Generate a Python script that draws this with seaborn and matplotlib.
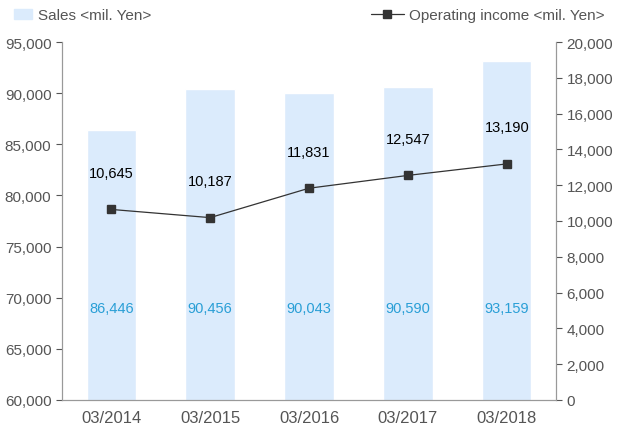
import numpy as np
import pandas as pd
import matplotlib.pyplot as plt
import seaborn as sns
from matplotlib.lines import Line2D
from matplotlib.patches import Patch

years = ['03/2014', '03/2015', '03/2016', '03/2017', '03/2018']
sales = [86446, 90456, 90043, 90590, 93159]
income = [10645, 10187, 11831, 12547, 13190]

df = pd.DataFrame({'year': years, 'sales': sales, 'income': income})

sns.set_style('white')
plt.rcParams['font.family'] = ['Liberation Sans', 'DejaVu Sans']

fig = plt.figure(figsize=(6.18, 4.31), dpi=100)
ax = fig.add_axes([0.1, 0.07, 0.8, 0.83])
sns.barplot(data=df, x='year', y='sales', color='#dbebfc', width=0.5, ax=ax, saturation=1)
ax.set_ylim(60000, 95000)
ax.set_yticks(np.arange(60000, 95001, 5000))
ax.yaxis.set_major_formatter(plt.FuncFormatter(lambda v, p: f'{int(v):,}'))
ax.set_xlabel('')
ax.set_ylabel('')
for i, s in enumerate(sales):
    ax.text(i, 69000, f'{s:,}', ha='center', va='center', color='#2a9fd6', fontsize=10.5)

ax2 = ax.twinx()
x = np.arange(len(years))
ax2.plot(x, income, color='#333333', lw=0.9, marker='s', ms=6)
ax2.set_ylim(0, 20000)
ax2.set_yticks(np.arange(0, 20001, 2000))
ax2.yaxis.set_major_formatter(plt.FuncFormatter(lambda v, p: f'{int(v):,}'))
for i, v in enumerate(income):
    ax2.text(i, v + 2050, f'{v:,}', ha='center', va='center', color='black', fontsize=10.5)
ax.set_xlim(-0.5, 4.5)

for a in (ax, ax2):
    for s in a.spines.values():
        s.set_color('#999999')
    a.spines['top'].set_visible(False)
    a.tick_params(colors='#555555', labelsize=11, length=4, direction='out')
ax.tick_params(axis='y', left=True)
ax.tick_params(axis='x', bottom=False, labelsize=12)
ax2.tick_params(axis='y', right=True)

fig.legend(handles=[Patch(color='#dbebfc', label='Sales <mil. Yen>')],
           loc='upper left', bbox_to_anchor=(0.0, 1.01), frameon=False, fontsize=11,
           labelcolor='#555555', handlelength=1.2, handletextpad=0.4)
fig.legend(handles=[Line2D([], [], color='#333333', marker='s', ms=6, lw=0.9,
                           label='Operating income <mil. Yen>')],
           loc='upper right', bbox_to_anchor=(1.0, 1.01), frameon=False, fontsize=11,
           labelcolor='#555555', handlelength=2.2, handletextpad=0.3)

fig.savefig('out.png', dpi=100)
